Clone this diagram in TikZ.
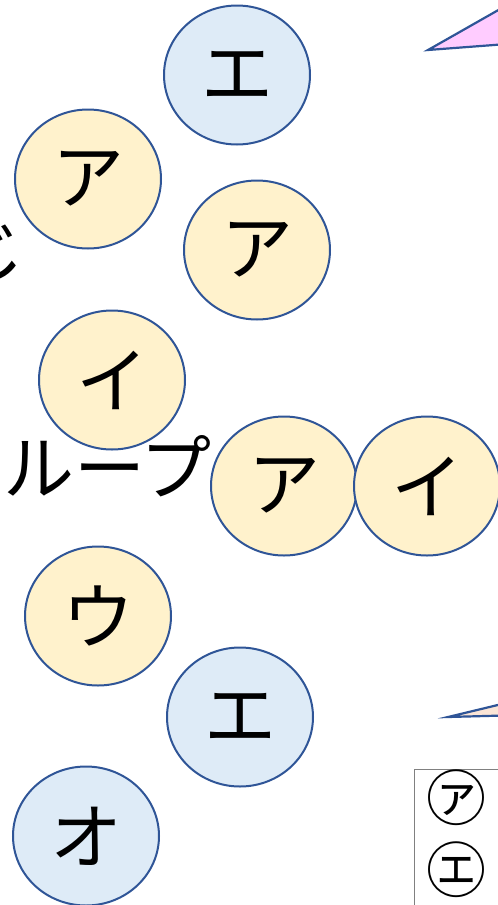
\documentclass[tikz,border=0pt]{standalone}
\usepackage{fontspec}
\setmainfont{Noto Sans CJK JP}
\usepackage{xcolor}
\usepackage{tikz}
\usetikzlibrary{shapes.geometric}
\usetikzlibrary{positioning}
\definecolor{myBlue}{HTML}{2F5597}
\definecolor{myYellow}{HTML}{FFF2CC}
\definecolor{myLightBlue}{HTML}{DEEBF7}
\definecolor{myPink}{HTML}{FFCCFF}
\definecolor{myPeach}{HTML}{FBE5D6}

\begin{document}
\begin{tikzpicture}[x=1pt, y=-1pt]
\tikzstyle{kana}=[ellipse, draw=myBlue, line width=2pt, minimum width=146pt, minimum height=139pt, inner sep=0pt, font=\fontsize{72}{72}\selectfont]
\tikzstyle{yel}=[kana, fill=myYellow]
\tikzstyle{blu}=[kana, fill=myLightBlue]
\tikzstyle{big}=[inner sep=0pt, font=\fontsize{71}{71}\selectfont]
\tikzstyle{circ}=[inner sep=0pt, font=\fontsize{60}{60}\selectfont]
\tikzstyle{tri}=[draw=myBlue, line width=2.2pt, line join=miter]
\useasboundingbox (0,0) rectangle (498,905);
\clip (0,0) rectangle (498,905);
% labels cut by the frame
\node[big, anchor=east] (ji) at (25,252) {じ};
\node[big, anchor=east] (loop) at (212,466) {ループ};
% pointers on the right
\coordinate (t1) at (428,50);
\coordinate (t2) at (560,-25);
\coordinate (t3) at (560,40);
\filldraw[tri, fill=myPink] (t1) -- (t2) -- (t3) -- cycle;
\coordinate (b1) at (448,717);
\coordinate (b2) at (560,690);
\coordinate (b3) at (560,714);
\filldraw[tri, fill=myPeach] (b1) -- (b2) -- (b3) -- cycle;
% cards
\node[blu] (e1) at (237,75) {エ};
\node[yel] (a1) at (88,179) {ア};
\node[yel] (a2) at (257,250) {ア};
\node[yel] (i1) at (112,380) {イ};
\node[yel] (a3) at (284,486) {ア};
\node[yel, right=-5pt of a3] (i2) {イ};
\node[yel] (u1) at (98,616) {ウ};
\node[blu] (e2) at (240,717) {エ};
\node[blu] (o1) at (86,836) {オ};
% legend box
\draw[draw=black!50, line width=0.8pt] (414.5,769.5) rectangle (560,960);
\node[circ] (ka) at (456,798) {㋐};
\node[circ, below=15pt of ka] (ke) {㋓};
\end{tikzpicture}
\end{document}
